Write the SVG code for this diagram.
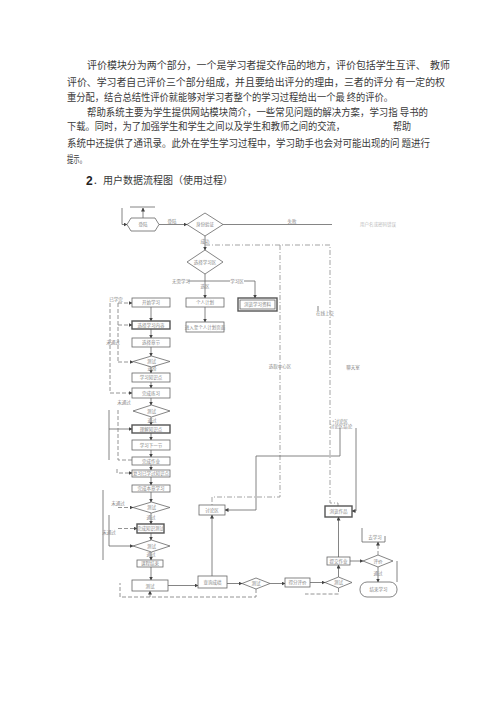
<svg xmlns="http://www.w3.org/2000/svg" width="500" height="707" viewBox="0 0 500 707">
<style>
.p{font-family:"Noto Sans CJK SC","Liberation Serif",serif;font-size:10px;fill:#3a3a3a}
.h{font-family:"Liberation Sans","Noto Sans CJK SC",sans-serif;fill:#222}
.l{stroke:#666;stroke-width:0.8;fill:none}
.d{stroke:#888;stroke-width:0.9;fill:none;stroke-dasharray:4 2}
.dd{stroke:#999;stroke-width:0.9;fill:none;stroke-dasharray:5 2 1 2}
.b{fill:#fff;stroke:#666;stroke-width:0.8}
.bt{fill:#fff;stroke:#555;stroke-width:1.4}
.t{font-family:"Noto Sans CJK SC",sans-serif;font-size:4.5px;fill:#888;text-anchor:middle}
.tg{font-family:"Noto Sans CJK SC",sans-serif;font-size:4.5px;fill:#bbb}
</style>
<defs>
<marker id="a" markerWidth="4" markerHeight="4" refX="3.5" refY="2" orient="auto" markerUnits="userSpaceOnUse"><path d="M0,0 L4,2 L0,4 z" fill="#444"/></marker>
</defs>
<rect width="500" height="707" fill="#fff"/>
<g id="text">
<text class="p" x="87" y="69" textLength="363" lengthAdjust="spacingAndGlyphs" xml:space="preserve">评价模块分为两个部分，一个是学习者提交作品的地方，评价包括学生互评、  教师</text>
<text class="p" x="67" y="86" textLength="378" lengthAdjust="spacingAndGlyphs" xml:space="preserve">评价、学习者自己评价三个部分组成，并且要给出评分的理由，三者的评分 有一定的权</text>
<text class="p" x="67" y="100.5" textLength="326" lengthAdjust="spacingAndGlyphs" xml:space="preserve">重分配，结合总结性评价就能够对学习者整个的学习过程给出一个最 终的评价。</text>
<text class="p" x="87" y="115.5" textLength="341" lengthAdjust="spacingAndGlyphs" xml:space="preserve">帮助系统主要为学生提供网站模块简介，一些常见问题的解决方案，学习指 导书的</text>
<text class="p" x="67" y="130" textLength="278" lengthAdjust="spacingAndGlyphs">下载。同时，为了加强学生和学生之间以及学生和教师之间的交流，</text>
<text class="p" x="393" y="130" textLength="18" lengthAdjust="spacingAndGlyphs">帮助</text>
<text class="p" x="67" y="146.5" textLength="363" lengthAdjust="spacingAndGlyphs" xml:space="preserve">系统中还提供了通讯录。此外在学生学习过程中，学习助手也会对可能出现的问 题进行</text>
<text class="p" x="67" y="163" textLength="19" lengthAdjust="spacingAndGlyphs">提示。</text>
<text class="h" x="86" y="184.5" font-size="12" font-weight="bold">2</text>
<text class="p" x="93" y="184" textLength="140" lengthAdjust="spacingAndGlyphs">．用户数据流程图（使用过程）</text>
</g>
<g id="connectors">
<path class="l" d="M122,208 V224.5 H127" marker-end="url(#a)"/>
<path class="l" d="M130,207 H155"/>
<path class="l" d="M143,218 V208" marker-end="url(#a)"/>
<path class="l" d="M159,224.5 H187" marker-end="url(#a)"/>
<path class="l" d="M223,224.5 H332"/>
<path class="l" d="M205,236 V250" marker-end="url(#a)"/>
<path class="l" d="M205,274 V298" marker-end="url(#a)"/>
<path class="l" d="M183,281 H255 V298" marker-end="url(#a)"/>
<path class="l" d="M205,307 V322" marker-end="url(#a)"/>
<path class="dd" d="M205,245 H330 V503 H338 V506"/>
<path class="dd" d="M280,245 V497 H212 V505"/>
<path class="l" d="M340,428 V456 H256 V510 H225" marker-end="url(#a)"/>
<path class="l" d="M356,428 V511 H352" marker-end="url(#a)"/>
<path class="l" d="M151,307 V321" marker-end="url(#a)"/>
<path class="l" d="M151,329 V338" marker-end="url(#a)"/>
<path class="l" d="M151,347 V356" marker-end="url(#a)"/>
<path class="l" d="M151,367 V373" marker-end="url(#a)"/>
<path class="l" d="M151,382 V388" marker-end="url(#a)"/>
<path class="l" d="M151,398 V405" marker-end="url(#a)"/>
<path class="l" d="M151,417 V425" marker-end="url(#a)"/>
<path class="l" d="M151,433 V440" marker-end="url(#a)"/>
<path class="l" d="M151,450 V457" marker-end="url(#a)"/>
<path class="l" d="M151,465 V470" marker-end="url(#a)"/>
<path class="l" d="M151,477 V485" marker-end="url(#a)"/>
<path class="l" d="M151,492 V502" marker-end="url(#a)"/>
<path class="l" d="M151,513 V524" marker-end="url(#a)"/>
<path class="l" d="M151,533 V540" marker-end="url(#a)"/>
<path class="l" d="M151,552 V560" marker-end="url(#a)"/>
<path class="l" d="M151,567 V580" marker-end="url(#a)"/>
<path class="d" d="M118,303 V362"/>
<path class="d" d="M118,303 H132" marker-end="url(#a)"/>
<path class="d" d="M118,325 H132" marker-end="url(#a)"/>
<path class="d" d="M118,362 H133" marker-end="url(#a)"/>
<path class="d" d="M110,303 V393 H132" marker-end="url(#a)"/>
<path class="l" d="M109,410 V460"/>
<path class="l" d="M109,429 H132" marker-end="url(#a)"/>
<path class="d" d="M118,410 V460 H132"/>
<path class="d" d="M117,469 V473 H132" marker-end="url(#a)"/>
<path class="d" d="M118,507.5 H133" marker-end="url(#a)"/>
<path class="d" d="M118,528.5 H137" marker-end="url(#a)"/>
<path class="l" d="M109,515 V546 H133" marker-end="url(#a)"/>
<path class="l" d="M103,490 V560" stroke="#bbb"/>
<path class="l" d="M168,585.5 H198" marker-end="url(#a)"/>
<path class="l" d="M212,576 V515" marker-end="url(#a)"/>
<path class="l" d="M227,583.5 H242" marker-end="url(#a)"/>
<path class="l" d="M270,583.5 H285" marker-end="url(#a)"/>
<path class="l" d="M310,582.5 H325" marker-end="url(#a)"/>
<path class="l" d="M338.5,577 V565" marker-end="url(#a)"/>
<path class="l" d="M338.5,557 V517" marker-end="url(#a)"/>
<path class="l" d="M350,561 H363" marker-end="url(#a)"/>
<path class="d" d="M378,555 V542" marker-end="url(#a)"/>
<path class="l" d="M378,567 V582" marker-end="url(#a)"/>
<path class="l" d="M397,561 V582" stroke="#bbb"/>
<path class="d" d="M256,589 V597 H120 V583"/>
<path class="d" d="M150,597 V591" marker-end="url(#a)"/>
<path class="d" d="M338.5,588 V594 H305"/>
<path class="l" d="M318,306 V311"/>
</g>
<g id="n-login"><polygon class="b" points="127,224.5 131,218 155,218 159,224.5 155,231 131,231"/><text class="t" x="143" y="226">登陆</text></g>
<g id="n-verify"><polygon class="b" points="187,224.5 205,213 223,224.5 205,236"/><text class="t" x="205" y="226">身份验证</text></g>
<g id="n-choose"><polygon class="b" points="187,262 205,250 223,262 205,274"/><text class="t" x="205" y="263.5">选择学习区</text></g>
<g id="labels">
<text class="t" x="172" y="222.5">登陆</text>
<text class="t" x="292" y="222.5">失败</text>
<text class="tg" x="360" y="226">用户名或密码错误</text>
<text class="t" x="205" y="243">成功</text>
<rect x="176" y="278" width="12" height="6" fill="#fff"/>
<text class="t" x="181" y="282.5" text-anchor="end">无需学习</text>
<rect x="230" y="278" width="14" height="6" fill="#fff"/>
<text class="t" x="237" y="282.5">学习区</text>
<text class="t" x="205" y="288">选区</text>
<text class="t" x="116" y="301">已学完</text>
<text class="t" x="113" y="344">未通过</text>
<text class="t" x="124" y="404">未通过</text>
<text class="t" x="152" y="370">选择</text>
<text class="t" x="152" y="422">通过</text>
<text class="t" x="118" y="505">未通过</text>
<text class="t" x="109" y="534">未通过</text>
<text class="t" x="151" y="519">通过</text>
<text class="t" x="151" y="556">通过</text>
<text class="t" x="325" y="315">在线上交</text>
<text class="t" x="280" y="368">选取中心区</text>
<text class="t" x="353" y="369">聊天室</text>
<text class="t" x="340" y="423">+讨论区</text>
<text class="t" x="341" y="428">讨论区结论</text>
<text class="t" x="378" y="575">通过</text>
</g>
<g id="n-a"><rect class="b" x="132" y="298" width="38" height="9"/><text class="t" x="151" y="304">开始学习</text></g>
<g id="n-mid1"><rect class="b" x="186" y="298" width="38" height="9"/><text class="t" x="205" y="304">个人计划</text></g>
<g id="n-right"><rect class="bt" x="238" y="298" width="39" height="13"/><rect class="b" x="240" y="300" width="35" height="9"/><text class="t" x="257.5" y="306">浏览学习资料</text></g>
<g id="n-mid2"><rect class="b" x="186" y="322" width="38" height="10"/><text class="t" x="205" y="328.5">进入至个人计划页面</text></g>
<g id="n-b"><rect class="bt" x="132" y="321" width="38" height="8"/><text class="t" x="151" y="326.5">选择学习内容</text></g>
<g id="n-c"><rect class="b" x="132" y="338" width="38" height="9"/><text class="t" x="151" y="344">选择章节</text></g>
<g id="n-d1"><polygon class="b" points="133,361.5 151.5,356 170,361.5 151.5,367"/><text class="t" x="151.5" y="363">测试</text></g>
<g id="n-e"><rect class="b" x="132" y="373" width="38" height="9"/><text class="t" x="151" y="379">学习知识点</text></g>
<g id="n-f"><rect class="b" x="132" y="388" width="38" height="10"/><text class="t" x="151" y="394.5">完成练习</text></g>
<g id="n-d2"><polygon class="b" points="133,411 151.5,405 170,411 151.5,417"/><text class="t" x="151.5" y="412.5">测试</text></g>
<g id="n-g"><rect class="bt" x="132" y="425" width="38" height="8"/><text class="t" x="151" y="430.5">理解知识点</text></g>
<g id="n-h"><rect class="b" x="132" y="440" width="38" height="10"/><text class="t" x="151" y="446.5">学习下一节</text></g>
<g id="n-i"><rect class="b" x="132" y="457" width="38" height="8"/><text class="t" x="151" y="462.5">完成作业</text></g>
<g id="n-j"><rect class="b" x="132" y="470" width="38" height="7"/><text class="t" x="151" y="475">复习已学过知识点</text></g>
<g id="n-k"><rect class="b" x="132" y="485" width="38" height="7"/><text class="t" x="151" y="490">完成本章学习</text></g>
<g id="n-d3"><polygon class="b" points="133,507.5 151.5,502 170,507.5 151.5,513"/><text class="t" x="151.5" y="509">测试</text></g>
<g id="n-l"><rect class="bt" x="137" y="524" width="27" height="9"/><text class="t" x="150.5" y="530">完成知识测试</text></g>
<g id="n-d4"><polygon class="b" points="133,546 151.5,540 170,546 151.5,552"/><text class="t" x="151.5" y="547.5">测试</text></g>
<g id="n-m"><rect class="b" x="137" y="560" width="26" height="7"/><text class="t" x="150" y="565">课程结束</text></g>
<g id="n-n"><rect class="b" x="132" y="580" width="36" height="11"/><text class="t" x="150" y="587.5">测试</text></g>
<g id="n-query"><rect class="b" x="198" y="576" width="29" height="12"/><text class="t" x="212.5" y="583.5">查询成绩</text></g>
<g id="n-dq"><polygon class="b" points="242,583.5 256,578 270,583.5 256,589"/><text class="t" x="256" y="585">测试</text></g>
<g id="n-score"><rect class="b" x="285" y="578" width="25" height="9"/><text class="t" x="297.5" y="584">得分评价</text></g>
<g id="n-dt"><polygon class="b" points="325,582.5 338.5,577 352,582.5 338.5,588"/><text class="t" x="338.5" y="584">测试</text></g>
<g id="n-submit"><rect class="b" x="327" y="557" width="23" height="8"/><text class="t" x="338.5" y="562.5">提交作业</text></g>
<g id="n-eval"><polygon class="b" points="363,561 378,555 393,561 378,567"/><text class="t" x="378" y="562.5">评价</text></g>
<g id="n-relearn"><path class="l" d="M362,528 V542 H385 V536"/><text class="t" x="375" y="539">去学习</text></g>
<g id="n-end"><rect class="b" x="360" y="582" width="37" height="15" rx="7"/><text class="t" x="378.5" y="591">结束学习</text></g>
<g id="n-browse"><rect class="bt" x="325" y="506" width="27" height="11"/><text class="t" x="338.5" y="513">浏览作品</text></g>
<g id="n-forum"><rect class="b" x="199" y="505" width="26" height="10"/><text class="t" x="212" y="511.5">讨论区</text></g>
</svg>
